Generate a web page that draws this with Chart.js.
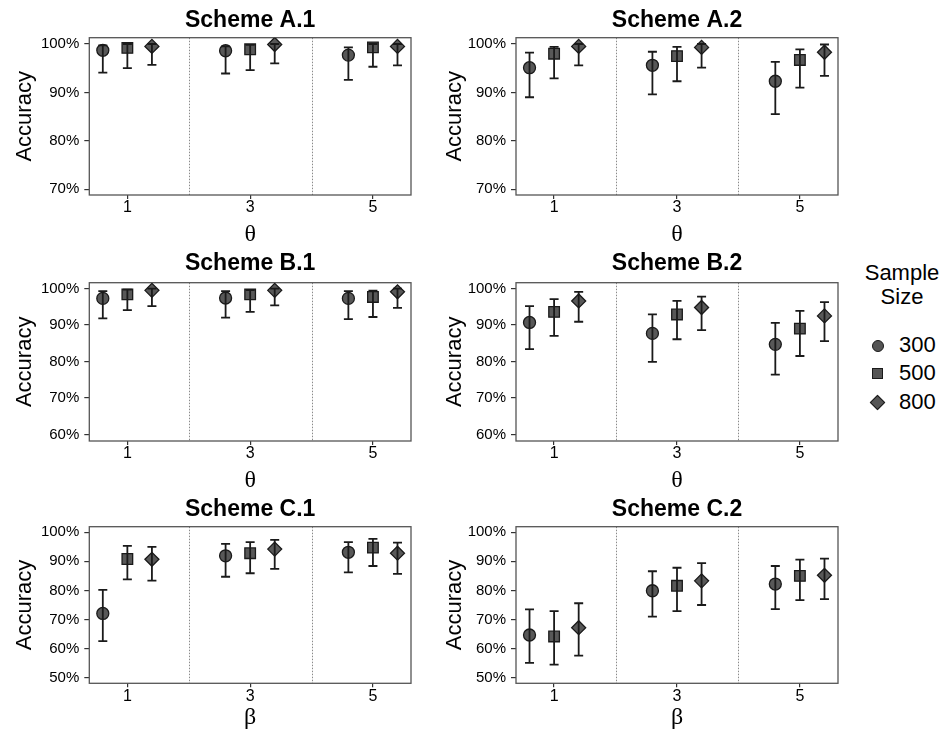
<!DOCTYPE html>
<html>
<head>
<meta charset="utf-8">
<script src="https://cdn.jsdelivr.net/npm/chart.js@4/dist/chart.umd.min.js"></script>
<style>
  body { margin: 0; background: #fff; width: 944px; height: 731px; overflow: hidden; position: relative;
         font-family: "Liberation Sans", Arial, sans-serif; color: #000; }
  canvas { position: absolute; }
  #legend-title { position: absolute; left: 852px; top: 261px; width: 100px; text-align: center;
                  font-size: 22px; line-height: 24px; }
  .item { position: absolute; left: 862px; height: 28px; width: 82px; }
  .item span { position: absolute; left: 37px; top: 0; font-size: 22px; line-height: 28px; }
  .sym { position: absolute; box-sizing: border-box; border: 1.5px solid #1a1a1a; background: #555; }
</style>
</head>
<body>
<canvas id="a1"></canvas>
<canvas id="a2"></canvas>
<canvas id="b1"></canvas>
<canvas id="b2"></canvas>
<canvas id="c1"></canvas>
<canvas id="c2"></canvas>
<div id="legend-title">Sample<br>Size</div>
<div id="legend"></div>

<script>
const xLabels = ["1", "3", "5"];
const sampleSizes = ["300", "500", "800"];
const ticksA = [70, 80, 90, 100];
const ticksB = [60, 70, 80, 90, 100];
const ticksC = [50, 60, 70, 80, 90, 100];

// accuracy (%) per parameter value, rows = sample size 300 / 500 / 800
const a1Mean = [[98.7, 98.6, 97.7], [99.2, 98.9, 99.3], [99.5, 99.9, 99.5]];
const a1Low  = [[94.1, 93.9, 92.6], [95.0, 94.6, 95.3], [95.7, 96.0, 95.6]];
const a1High = [[99.7, 99.5, 99.3], [100, 99.8, 100], [100, 100, 100]];

const a2Mean = [[95.1, 95.6, 92.3], [98.0, 97.5, 96.7], [99.5, 99.3, 98.3]];
const a2Low  = [[89.0, 89.6, 85.5], [92.9, 92.3, 91.0], [95.6, 95.1, 93.4]];
const a2High = [[98.2, 98.4, 96.3], [99.4, 99.4, 98.9], [100, 100, 99.9]];

const b1Mean = [[97.3, 97.4, 97.3], [98.4, 98.4, 97.7], [99.5, 99.5, 99.1]];
const b1Low  = [[91.8, 92.0, 91.6], [94.1, 93.6, 92.2], [95.2, 95.4, 94.7]];
const b1High = [[99.3, 99.3, 99.3], [99.7, 99.6, 99.4], [100, 100, 100]];

const b2Mean = [[90.7, 87.7, 84.7], [93.6, 92.9, 89.0], [96.6, 94.8, 92.5]];
const b2Low  = [[83.4, 79.9, 76.4], [87.0, 86.1, 81.5], [90.9, 88.6, 85.6]];
const b2High = [[95.2, 92.9, 90.6], [97.1, 96.6, 93.9], [99.1, 97.8, 96.3]];

const c1Mean = [[72.1, 91.9, 93.1], [90.8, 92.8, 94.7], [90.7, 94.2, 92.8]];
const c1Low  = [[62.6, 84.7, 86.2], [83.8, 85.9, 88.4], [83.4, 87.4, 85.7]];
const c1High = [[80.2, 96.0, 96.6], [95.3, 96.6, 97.7], [95.0, 97.4, 96.4]];

const c2Mean = [[64.7, 79.9, 82.2], [64.2, 81.6, 85.0], [67.2, 83.3, 85.2]];
const c2Low  = [[55.1, 71.0, 73.6], [54.5, 72.9, 76.7], [57.6, 75.0, 77.0]];
const c2High = [[73.5, 86.6, 88.4], [72.9, 87.8, 90.6], [75.6, 89.4, 90.9]];

const DODGE = [-0.2, 0, 0.2];
const SHAPES = ["circle", "rect", "rectRot"];
const RADII = [6, 7.5, 7];
const FILL = "#585858";
const INK = "#1a1a1a";

const errorBars = {
  id: "errorBars",
  afterDatasetsDraw(chart) {
    const { ctx, scales: { x, y } } = chart;
    ctx.save();
    ctx.strokeStyle = INK;
    ctx.lineWidth = 1.8;
    chart.data.datasets.forEach((ds) => {
      ds.data.forEach((p) => {
        const px = x.getPixelForValue(p.x);
        const top = y.getPixelForValue(p.hi);
        const bot = y.getPixelForValue(p.lo);
        ctx.beginPath();
        ctx.moveTo(px, top); ctx.lineTo(px, bot);
        ctx.moveTo(px - 4.5, top); ctx.lineTo(px + 4.5, top);
        ctx.moveTo(px - 4.5, bot); ctx.lineTo(px + 4.5, bot);
        ctx.stroke();
      });
    });
    ctx.restore();
  },
};

const frame = {
  id: "frame",
  beforeDatasetsDraw(chart) {
    const { ctx, chartArea: a, scales: { x } } = chart;
    ctx.save();
    ctx.strokeStyle = "#8a8a8a";
    ctx.lineWidth = 1;
    ctx.setLineDash([1.5, 1.5]);
    [1.5, 2.5].forEach((v) => {
      const px = Math.round(x.getPixelForValue(v)) + 0.5;
      ctx.beginPath(); ctx.moveTo(px, a.top); ctx.lineTo(px, a.bottom); ctx.stroke();
    });
    ctx.setLineDash([]);
    ctx.strokeStyle = "#555";
    ctx.lineWidth = 1.3;
    ctx.strokeRect(a.left, a.top, a.right - a.left, a.bottom - a.top);
    ctx.restore();
  },
};

function makePanel(id, box, title, xTitle, mean, low, high, yMin, yMax, yTicks) {
  const canvas = document.getElementById(id);
  canvas.width = box.w; canvas.height = box.h;
  canvas.style.left = box.left + "px"; canvas.style.top = box.top + "px";

  const datasets = sampleSizes.map((s, k) => ({
    label: s,
    data: xLabels.map((_, i) => ({ x: i + 1 + DODGE[k], y: mean[k][i], lo: low[k][i], hi: high[k][i] })),
    pointStyle: SHAPES[k],
    pointRadius: RADII[k],
    pointBackgroundColor: FILL,
    pointBorderColor: INK,
    pointBorderWidth: 1.3,
  }));

  new Chart(canvas, {
    type: "scatter",
    data: { datasets },
    plugins: [frame, errorBars],
    options: {
      responsive: false,
      animation: false,
      events: [],
      layout: { padding: { left: 0, right: box.right, top: 0, bottom: 0 } },
      plugins: {
        legend: { display: false },
        tooltip: { enabled: false },
        title: {
          display: true, text: title, fullSize: false, color: "#000",
          font: { family: "Liberation Sans", size: 23, weight: "bold", lineHeight: 1.2 },
          padding: { top: box.tTop, bottom: box.tBottom },
        },
      },
      scales: {
        x: {
          type: "linear", min: 0.69, max: 3.31,
          afterBuildTicks: (s) => { s.ticks = xLabels.map((_, i) => ({ value: i + 1 })); },
          afterFit: (s) => { s.height = box.xh; },
          ticks: { color: "#000", font: { family: "Liberation Sans", size: 16, lineHeight: 1 }, padding: 1,
                   callback: (v) => xLabels[Math.round(v) - 1] },
          grid: { drawOnChartArea: false, drawTicks: true, tickLength: 4, color: "#333", lineWidth: 1.2 },
          border: { display: false },
          title: { display: true, text: xTitle, color: "#000",
                   font: { family: "Liberation Serif", size: 24, lineHeight: 1.15 },
                   padding: { top: 0, bottom: 1 } },
        },
        y: {
          min: yMin, max: yMax,
          afterBuildTicks: (s) => { s.ticks = yTicks.map((v) => ({ value: v })); },
          afterFit: (s) => { s.width = box.yw; },
          ticks: { color: "#000", font: { family: "Liberation Sans", size: 15 }, padding: 5,
                   callback: (v) => v + "%" },
          grid: { drawOnChartArea: false, drawTicks: true, tickLength: 5, color: "#333", lineWidth: 1.2 },
          border: { display: false },
          title: { display: true, text: "Accuracy", color: "#000",
                   font: { family: "Liberation Sans", size: 22, lineHeight: 1.2 },
                   padding: { top: 12, bottom: 0 } },
        },
      },
    },
  });
}

const col1 = { left: 0, w: 420, yw: 89.3, right: 9 };
const col2 = { left: 430, w: 420, yw: 86, right: 12 };
const row1 = { top: 0, h: 250, tTop: 6.7, tBottom: 3.4, xh: 55 };
const row2 = { top: 245, h: 251, tTop: 4.5, tBottom: 5.6, xh: 55 };
const row3 = { top: 489, h: 244, tTop: 6.7, tBottom: 3.4, xh: 49.7 };

makePanel("a1", { ...col1, ...row1 }, "Scheme A.1", "θ", a1Mean, a1Low, a1High, 68.8, 101.3, ticksA);
makePanel("a2", { ...col2, ...row1 }, "Scheme A.2", "θ", a2Mean, a2Low, a2High, 68.8, 101.3, ticksA);
makePanel("b1", { ...col1, ...row2 }, "Scheme B.1", "θ", b1Mean, b1Low, b1High, 58.2, 101.6, ticksB);
makePanel("b2", { ...col2, ...row2 }, "Scheme B.2", "θ", b2Mean, b2Low, b2High, 58.2, 101.6, ticksB);
makePanel("c1", { ...col1, ...row3 }, "Scheme C.1", "β", c1Mean, c1Low, c1High, 48.1, 101.9, ticksC);
makePanel("c2", { ...col2, ...row3 }, "Scheme C.2", "β", c2Mean, c2Low, c2High, 48.1, 101.9, ticksC);

// legend
const legend = document.getElementById("legend");
const symCss = [
  "left:9.5px;top:8.5px;width:12px;height:12px;border-radius:50%;",
  "left:10px;top:9px;width:11px;height:11px;",
  "left:10px;top:9px;width:11px;height:11px;transform:rotate(45deg);",
];
sampleSizes.forEach((s, k) => {
  const item = document.createElement("div");
  item.className = "item";
  item.style.top = (331 + k * 28.4) + "px";
  item.innerHTML = `<div class="sym" style="${symCss[k]}"></div><span>${s}</span>`;
  legend.appendChild(item);
});
</script>
</body>
</html>
